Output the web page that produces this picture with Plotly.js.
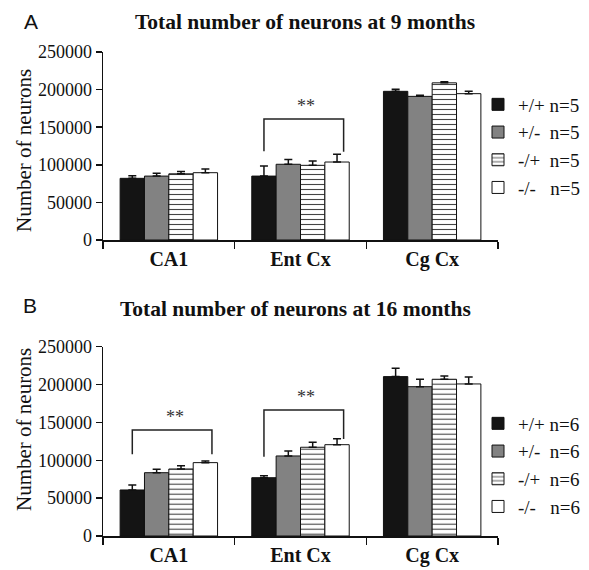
<!DOCTYPE html>
<html>
<head>
<meta charset="utf-8">
<script src="https://cdn.plot.ly/plotly-3.0.1.min.js"></script>
<style>html,body{margin:0;padding:0;background:#fff;}#chart{width:589px;height:570px;}</style>
</head>
<body>
<div id="chart"></div>
<script>
// ---- data ----
const regions = ["CA1", "Ent Cx", "Cg Cx"];
const genotypes = ["+/+", "+/-", "-/+", "-/-"];
const legendPadA = [" n=5", "\u00a0\u00a0n=5", "\u00a0\u00a0n=5", "\u00a0\u00a0\u00a0n=5"];
const legendPadB = [" n=6", "\u00a0\u00a0n=6", "\u00a0\u00a0n=6", "\u00a0\u00a0\u00a0n=6"];

// Panel A: 9 months (mean, upper SEM)
const a_wt   = [82000, 85000, 197700];
const a_het1 = [85000, 100700, 191000];
const a_het2 = [88000, 99300, 209000];
const a_ko   = [89500, 103700, 194600];
const a_wt_err   = [3500, 13400, 2700];
const a_het1_err = [3700, 6300, 1400];
const a_het2_err = [3000, 5700, 1500];
const a_ko_err   = [5000, 10300, 3100];

// Panel B: 16 months
const b_wt   = [60800, 77000, 210500];
const b_het1 = [83600, 105700, 197200];
const b_het2 = [88500, 117200, 207000];
const b_ko   = [96900, 120600, 200800];
const b_wt_err   = [6600, 2700, 11000];
const b_het1_err = [4400, 6600, 9800];
const b_het2_err = [4400, 6600, 4400];
const b_ko_err   = [2100, 7900, 9200];

const yTicks = [0, 50000, 100000, 150000, 200000, 250000];

// significance brackets: [panel, category index, top level, left drop, right drop]
const brackets = [
  ["A", 1, 161000, 118000, 117400],
  ["B", 0, 140000, 108000, 108000],
  ["B", 1, 166400, 104800, 128000]
];
const sigLabel = "**";
</script>
<script>
const serif = "Liberation Serif";
const sans = "Liberation Sans";
const fills = ["#141414", "#828282", "#ffffff", "#ffffff"];
const bargap = 0.26;
const bw = (1 - bargap) / 4;

function mk(vals, errs, i, panel) {
  const t = {
    type: "bar",
    x: regions,
    y: vals,
    name: genotypes[i] + (panel === "A" ? legendPadA[i] : legendPadB[i]),
    xaxis: panel === "A" ? "x" : "x2",
    yaxis: panel === "A" ? "y" : "y2",
    legend: panel === "A" ? "legend" : "legend2",
    marker: { color: fills[i], line: { color: "#111", width: 1 } },
    error_y: { type: "data", symmetric: false, array: errs, arrayminus: errs.map(() => 0),
               color: "#111", thickness: 1.5, width: 4 },
    hoverinfo: "none"
  };
  if (i === 2) {
    t.marker.pattern = { shape: "-", fgcolor: "#444", bgcolor: "#ffffff", size: 5, solidity: 0.22 };
  }
  return t;
}

const data = [
  mk(a_wt, a_wt_err, 0, "A"), mk(a_het1, a_het1_err, 1, "A"),
  mk(a_het2, a_het2_err, 2, "A"), mk(a_ko, a_ko_err, 3, "A"),
  mk(b_wt, b_wt_err, 0, "B"), mk(b_het1, b_het1_err, 1, "B"),
  mk(b_het2, b_het2_err, 2, "B"), mk(b_ko, b_ko_err, 3, "B")
];

const W = 589, H = 570;
const px = v => v / W, py = v => 1 - v / H;

const shapes = [], annotations = [];
brackets.forEach(b => {
  const xr = b[0] === "A" ? "x" : "x2", yr = b[0] === "A" ? "y" : "y2";
  const xl = b[1] - 1.5 * bw, xrr = b[1] + 1.5 * bw + 0.05;
  shapes.push({ type: "path", xref: xr, yref: yr,
    path: `M${xl},${b[3]} L${xl},${b[2]} L${xrr},${b[2]} L${xrr},${b[4]}`,
    line: { color: "#222", width: 1.5 } });
  annotations.push({ xref: xr, yref: yr, x: (xl + xrr) / 2 + 0.02, y: b[2], yshift: 13,
    xanchor: "center", yanchor: "middle",
    text: sigLabel, showarrow: false, font: { family: serif, size: 18, color: "#333" } });
});

annotations.push(
  { xref: "paper", yref: "paper", x: px(305), y: py(22), xanchor: "center", yanchor: "middle",
    text: "<b>Total number of neurons at 9 months</b>",
    showarrow: false, font: { family: serif, size: 21.5, color: "#111" } },
  { xref: "paper", yref: "paper", x: px(295), y: py(309), xanchor: "center", yanchor: "middle",
    text: "<b>Total number of neurons at 16 months</b>",
    showarrow: false, font: { family: serif, size: 21.5, color: "#111" } },
  { xref: "paper", yref: "paper", x: px(31), y: py(21), xanchor: "center", yanchor: "middle", text: "A",
    showarrow: false, font: { family: sans, size: 21, color: "#111" } },
  { xref: "paper", yref: "paper", x: px(30), y: py(305), xanchor: "center", yanchor: "middle", text: "B",
    showarrow: false, font: { family: sans, size: 21, color: "#111" } },
  { xref: "paper", yref: "paper", x: px(24), y: py(151), xanchor: "center", yanchor: "middle", textangle: -90,
    text: "Number of neurons", showarrow: false, font: { family: serif, size: 21, color: "#111" } },
  { xref: "paper", yref: "paper", x: px(24), y: py(430), xanchor: "center", yanchor: "middle", textangle: -90,
    text: "Number of neurons", showarrow: false, font: { family: serif, size: 21, color: "#111" } }
);

const xax = (anchor) => ({
  anchor: anchor, domain: [px(103), px(498)], type: "category",
  showline: true, linecolor: "#111", linewidth: 1.5,
  ticks: "outside", tickson: "boundaries", ticklen: 7, tickcolor: "#111", tickwidth: 1.5,
  tickfont: { family: serif, size: 20, color: "#111", weight: "bold" },
  showgrid: false, zeroline: false, fixedrange: true
});
const yax = (anchor, dom) => ({
  anchor: anchor, domain: dom, range: [0, 250000], tickvals: yTicks, ticktext: yTicks.map(String),
  showline: true, linecolor: "#111", linewidth: 1.5,
  ticks: "outside", ticklen: 6, tickcolor: "#111", tickwidth: 1.5,
  tickfont: { family: serif, size: 18, color: "#111" },
  showgrid: false, zeroline: false, fixedrange: true
});

const legendBase = (yc) => ({
  x: px(478), y: py(yc), xanchor: "left", yanchor: "middle",
  font: { family: serif, size: 19, color: "#111" }, bgcolor: "rgba(0,0,0,0)",
  itemwidth: 30, traceorder: "normal"
});

const layout = {
  width: W, height: H,
  margin: { l: 0, r: 0, t: 0, b: 0 },
  font: { family: serif, color: "#111" },
  paper_bgcolor: "#fff", plot_bgcolor: "#fff",
  barmode: "group", bargap: bargap, bargroupgap: 0,
  xaxis: xax("y"), xaxis2: xax("y2"),
  yaxis: yax("x", [py(240), py(52)]),
  yaxis2: yax("x2", [py(536), py(346.7)]),
  legend: legendBase(146),
  legend2: legendBase(465),
  shapes: shapes, annotations: annotations,
  showlegend: true
};

Plotly.newPlot("chart", data, layout, { displayModeBar: false, staticPlot: true });
</script>
</body>
</html>
